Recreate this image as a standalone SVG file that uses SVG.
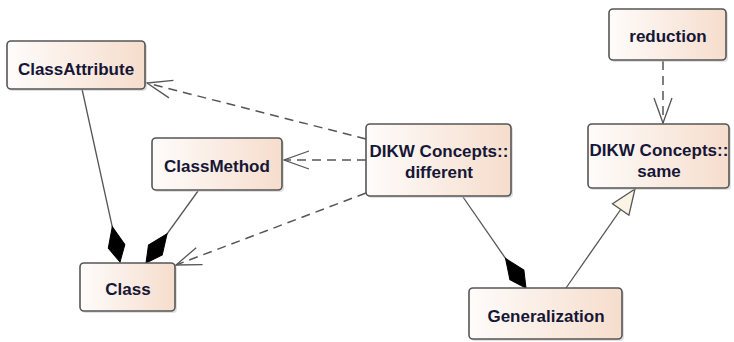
<svg xmlns="http://www.w3.org/2000/svg" width="734" height="342" viewBox="0 0 734 342">
  <defs>
    <linearGradient id="boxFill" x1="0" y1="0" x2="1" y2="0">
      <stop offset="0" stop-color="#fefcfb"/>
      <stop offset="1" stop-color="#f6ddcc"/>
    </linearGradient>
    <marker id="openArrow" markerUnits="userSpaceOnUse" viewBox="-26 -11 28 22" refX="0" refY="0" markerWidth="28" markerHeight="22" orient="auto" overflow="visible">
      <path d="M-25,-9 L0,0 L-25,9" fill="none" stroke="#555" stroke-width="1.3"/>
    </marker>
    <marker id="diamond" markerUnits="userSpaceOnUse" viewBox="-37 -10 38 20" refX="0" refY="0" markerWidth="38" markerHeight="20" orient="auto" overflow="visible">
      <path d="M0,0 L-16,-8.5 L-36,0 L-16,8.5 Z" fill="#000" stroke="#000" stroke-width="1"/>
    </marker>
    <marker id="triangle" markerUnits="userSpaceOnUse" viewBox="-27 -12 28 24" refX="0" refY="0" markerWidth="28" markerHeight="24" orient="auto" overflow="visible">
      <path d="M0,0 L-25,-10 L-25,10 Z" fill="#fbf3e4" stroke="#555" stroke-width="1.3"/>
    </marker>
  </defs>
  <style>
    .box { fill: url(#boxFill); stroke: #555; stroke-width: 1.6; }
    .shadow { fill: #bbb; opacity: 0.45; }
    .label { font-family: "Liberation Sans", Arial, sans-serif; font-weight: bold; font-size: 17px; fill: #161636; text-anchor: middle; }
    .solid { stroke: #555; stroke-width: 1.3; fill: none; }
    .dashed { stroke: #555; stroke-width: 1.5; fill: none; stroke-dasharray: 9 6; }
  </style>

  <rect width="734" height="342" fill="#fff"/>

  <!-- connectors -->
  <g id="connectors">
    <line class="dashed" x1="366" y1="139" x2="147" y2="83" marker-end="url(#openArrow)"/>
    <line class="dashed" x1="366" y1="160" x2="284" y2="160" marker-end="url(#openArrow)"/>
    <line class="dashed" x1="366" y1="193" x2="176" y2="265" marker-end="url(#openArrow)"/>
    <line class="solid" x1="82" y1="89" x2="120" y2="262" marker-end="url(#diamond)"/>
    <line class="solid" x1="198" y1="191" x2="146" y2="263" marker-end="url(#diamond)"/>
    <line class="solid" x1="463" y1="197" x2="526" y2="288" marker-end="url(#diamond)"/>
    <line class="solid" x1="566" y1="288" x2="635" y2="189" marker-end="url(#triangle)"/>
    <line class="dashed" x1="663" y1="61" x2="663" y2="123" marker-end="url(#openArrow)"/>
  </g>

  <!-- nodes -->
  <g id="classAttribute">
    <rect class="shadow" x="9" y="43" width="138" height="48" rx="4"/>
    <rect class="box" x="7" y="41" width="138" height="48" rx="4"/>
    <text class="label" x="76" y="75">ClassAttribute</text>
  </g>
  <g id="classMethod">
    <rect class="shadow" x="154" y="140" width="130" height="52" rx="4"/>
    <rect class="box" x="152" y="138" width="130" height="52" rx="4"/>
    <text class="label" x="217" y="172">ClassMethod</text>
  </g>
  <g id="different">
    <rect class="shadow" x="368" y="126" width="145" height="72" rx="4"/>
    <rect class="box" x="366" y="124" width="145" height="72" rx="4"/>
    <text class="label" x="439" y="157">DIKW Concepts::</text>
    <text class="label" x="439" y="178">different</text>
  </g>
  <g id="reduction">
    <rect class="shadow" x="611" y="11" width="117" height="51" rx="4"/>
    <rect class="box" x="609" y="9" width="117" height="51" rx="4"/>
    <text class="label" x="668" y="42">reduction</text>
  </g>
  <g id="same">
    <rect class="shadow" x="590" y="126" width="141" height="64" rx="4"/>
    <rect class="box" x="588" y="124" width="141" height="64" rx="4"/>
    <text class="label" x="659" y="156">DIKW Concepts::</text>
    <text class="label" x="659" y="177">same</text>
  </g>
  <g id="class">
    <rect class="shadow" x="82" y="265" width="95" height="48" rx="4"/>
    <rect class="box" x="80" y="263" width="95" height="48" rx="4"/>
    <text class="label" x="128" y="295">Class</text>
  </g>
  <g id="generalization">
    <rect class="shadow" x="471" y="290" width="153" height="51" rx="4"/>
    <rect class="box" x="469" y="288" width="153" height="51" rx="4"/>
    <text class="label" x="546" y="322">Generalization</text>
  </g>
</svg>
